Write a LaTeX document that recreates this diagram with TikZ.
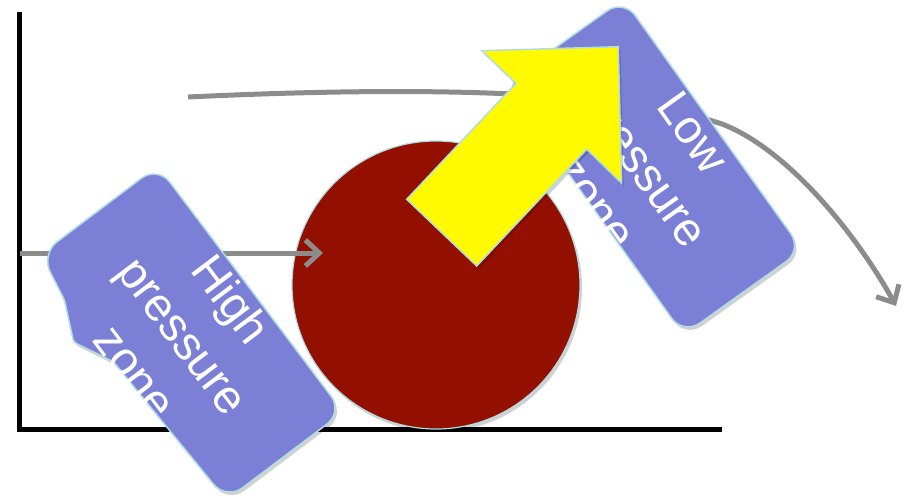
\documentclass[tikz,border=0pt]{standalone}
\usepackage{fontspec}
\setmainfont{Liberation Sans}
\usetikzlibrary{arrows.meta}
\definecolor{boxblue}{RGB}{123,128,214}
\definecolor{ballred}{RGB}{147,16,0}
\definecolor{edgecyan}{RGB}{176,220,228}
\definecolor{flowgray}{RGB}{140,140,140}
\definecolor{arrowyellow}{RGB}{255,250,0}
\begin{document}
\begin{tikzpicture}[x=1pt,y=1pt,
  softshade/.style={preaction={draw=none, fill=black, fill opacity=0.18,
      transform canvas={shift={(2pt,-3pt)}}}},
  axisline/.style={line width=5pt, black, line join=miter},
  flow/.style={line width=5pt, flowgray, -{Straight Barb[length=14pt,width=26pt]}},
  zonebox/.style={fill=boxblue, draw=edgecyan, line width=1.5pt, softshade},
  zonetext/.style={text=white, align=center, font=\fontsize{47}{60}\selectfont, inner sep=0pt},
  ballstyle/.style={circle, fill=ballred, draw=edgecyan, line width=1.2pt, minimum size=288pt, inner sep=0pt, softshade},
  bigarrow/.style={fill=arrowyellow, draw=edgecyan, line width=1.5pt, line join=miter, softshade}
]
\useasboundingbox (0,0) rectangle (905,-498);

% axes
\coordinate (ytop) at (19,-12);
\coordinate (origin) at (19,-429);
\coordinate (xend) at (722,-429);
\draw[axisline] (ytop) -- (origin) -- (xend);

% ball
\node[ballstyle] (ball) at (436,-285) {};

% flow lines
\coordinate (hstart) at (20,-253);
\coordinate (htip) at (323,-253);
\draw[flow] (hstart) -- (htip);

\coordinate (cstart) at (188,-97);
\coordinate (cmid) at (722,-124);
\coordinate (cend) at (896,-306);
\draw[flow] (cstart) .. controls (420,-86) and (620,-90) .. (cmid)
  .. controls (790,-150) and (860,-240) .. (cend);

% high pressure box
\begin{scope}[shift={(192,-333)}, rotate=-53]
  \draw[zonebox, rounded corners=20pt] (0,73) -- (154,73) -- (154,-73)
    {[rounded corners=3pt] -- (-24,-80) -- (-64,-100) -- (-103,-82)}
    -- (-154,-73) -- (-154,73) -- cycle;
\end{scope}
\node[zonetext, rotate=-53] (hightext) at (184,-335) {High\\pressure\\zone};

% low pressure box
\node[zonebox, rounded corners=20pt, minimum width=308pt, minimum height=146pt,
      rotate=-54.5] (lowbox) at (653.5,-167) {};
\node[zonetext, rotate=-54.5] (lowtext) at (644.5,-167.3) {Low\\pressure\\zone};

% yellow arrow
\draw[bigarrow] (481.7,-50.7) -- (618.3,-46.7) -- (621.7,-183.3) -- (586.7,-149.3)
  -- (476.7,-266) -- (406.7,-199.3) -- (516,-83.3) -- cycle;
\end{tikzpicture}
\end{document}
